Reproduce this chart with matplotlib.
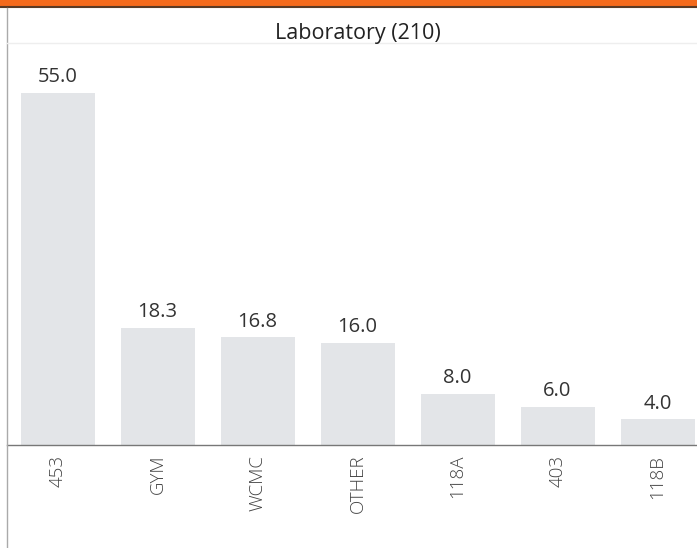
import matplotlib
matplotlib.use("Agg")
from matplotlib import pyplot as plt
from matplotlib.patches import Rectangle
from matplotlib.lines import Line2D
import numpy as np

categories = ['453', 'GYM', 'WCMC', 'OTHER', '118A', '403', '118B']
values = [55.0, 18.3, 16.8, 16.0, 8.0, 6.0, 4.0]
title = 'Laboratory (210)'

W, H = 697, 548
fig = plt.figure(figsize=(W / 100, H / 100), dpi=100)
plt.rcParams['font.family'] = ['Open Sans', 'DejaVu Sans']

# plot area: left border at x=7px, baseline at y=445px, top at y=43px
ax = fig.add_axes([7 / W, (H - 445) / H, (W - 7) / W, (445 - 43) / H])
x = np.arange(len(categories))
ax.bar(x, values, width=0.74, color='#e3e5e8', zorder=2)
for xi, v in zip(x, values):
    ax.text(xi, v + 0.9, f'{v:.1f}', ha='center', va='bottom',
            fontsize=14.5, color='#333333')

ax.set_xlim(-0.505, 6.395)
ax.set_ylim(0, 62.8)
ax.set_xticks(x)
ax.set_xticklabels(categories, rotation=90, fontsize=13.5, color='#444444',
                   fontweight='light')
ax.tick_params(axis='x', length=0, pad=7)
ax.set_yticks([])
for s in ['top', 'right', 'left']:
    ax.spines[s].set_visible(False)
ax.spines['bottom'].set_color('#777777')
ax.spines['bottom'].set_linewidth(1.0)

# orange header band and dark edge
fig.add_artist(Rectangle((0, (H - 6) / H), 1, 6 / H, transform=fig.transFigure,
                         color='#f46a1c', lw=0))
fig.add_artist(Line2D([0, 1], [(H - 7) / H] * 2, transform=fig.transFigure,
                      color='#5a3a25', lw=1.5))
# left border
fig.add_artist(Line2D([7 / W] * 2, [0, (H - 8) / H], transform=fig.transFigure,
                      color='#aaaaaa', lw=1.0))
# header separator
fig.add_artist(Line2D([7 / W, 1], [(H - 43) / H] * 2, transform=fig.transFigure,
                      color='#eeeeee', lw=1.0))
fig.text(358 / W, (H - 33) / H, title, ha='center', va='center',
         fontsize=15.5, color='#222222')

fig.savefig('out.png', dpi=100)
